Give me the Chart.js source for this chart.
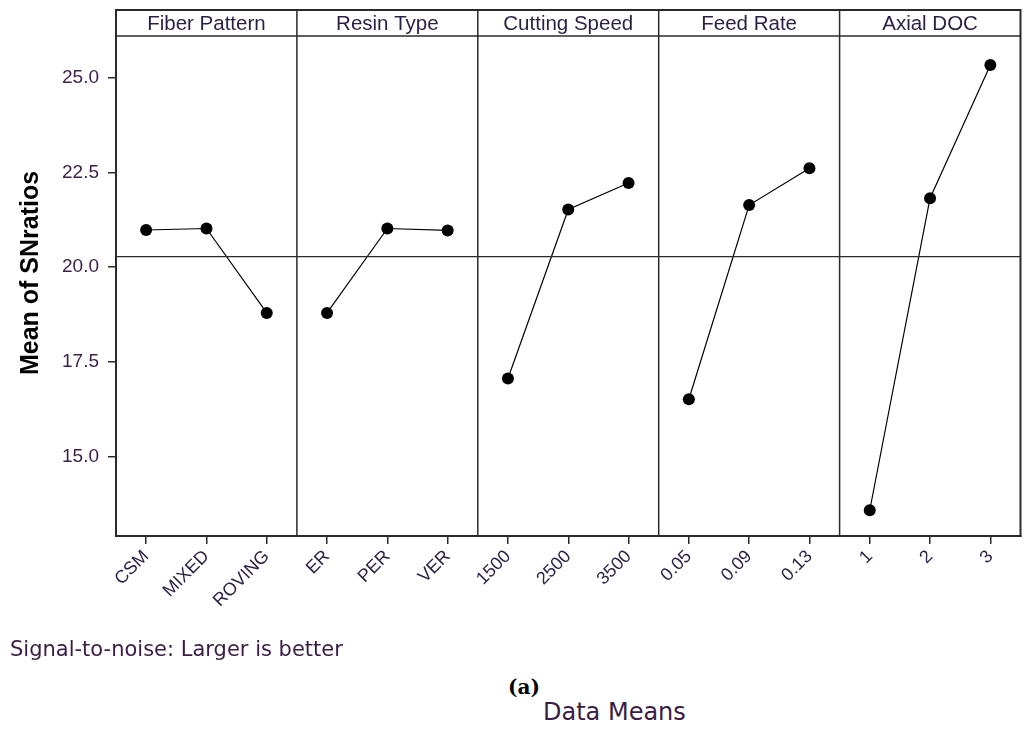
<!DOCTYPE html>
<html>
<head>
<meta charset="utf-8">
<script src="https://cdn.jsdelivr.net/npm/chart.js@4.4.1/dist/chart.umd.min.js"></script>
<style>
  body { margin: 0; background: #fff; width: 1026px; height: 736px; overflow: hidden; }
  #wrap { position: absolute; left: 0; top: 0; width: 1026px; height: 640px; }
  .note { position: absolute; white-space: nowrap; }
  #sn { left: 10px; top: 639px; font: 21px/21px "DejaVu Sans", sans-serif; color: #3a1c44; }
  #tag { left: 508px; top: 677px; font: bold 20px/20px "DejaVu Serif", serif; color: #000; }
  #means { left: 543px; top: 700px; font: 24px/24px "DejaVu Sans", sans-serif; color: #3a1c44; }
</style>
</head>
<body>
<div id="wrap"><canvas id="mainEffects"></canvas></div>
<div class="note" id="sn">Signal-to-noise: Larger is better</div>
<div class="note" id="tag">(a)</div>
<div class="note" id="means">Data Means</div>

<script>
// factors and their levels
var factors = ["Fiber Pattern", "Resin Type", "Cutting Speed", "Feed Rate", "Axial DOC"];
var fiberLevels = ["CSM", "MIXED", "ROVING"];
var resinLevels = ["ER", "PER", "VER"];
var speedLevels = ["1500", "2500", "3500"];
var feedLevels = ["0.05", "0.09", "0.13"];
var docLevels = ["1", "2", "3"];

// mean of S/N ratios per level
var fiberSN = [20.98, 21.02, 18.79];
var resinSN = [18.79, 21.02, 20.97];
var speedSN = [17.06, 21.52, 22.22];
var feedSN = [16.51, 21.64, 22.61];
var docSN = [13.58, 21.82, 25.34];

var grandMean = 20.28;
var yTicks = [15.0, 17.5, 20.0, 22.5, 25.0];

var allLevels = [fiberLevels, resinLevels, speedLevels, feedLevels, docLevels];
var allSN = [fiberSN, resinSN, speedSN, feedSN, docSN];

var tickFont = { family: "'Liberation Sans', Arial, sans-serif", size: 19 };
var frameColor = "#2a2a2a";

// one dataset per factor, points placed on the shared category axis
var datasets = factors.map(function (name, i) {
  return {
    label: name,
    data: allLevels[i].map(function (lv, j) {
      return { x: lv, y: allSN[i][j] };
    }),
    borderColor: "#000",
    borderWidth: 1.2,
    backgroundColor: "#000",
    pointRadius: 6,
    pointBorderWidth: 0,
    tension: 0,
  };
});

// frame, header strip, panel separators and reference line
var panelFrame = {
  id: "panelFrame",
  afterDatasetsDraw: function (chart) {
    var ctx = chart.ctx;
    var area = chart.chartArea;
    var x = chart.scales.x;
    var y = chart.scales.y;
    var headerBottom = area.top + 26;

    ctx.save();
    ctx.strokeStyle = frameColor;

    // grand mean line
    var ym = y.getPixelForValue(grandMean);
    ctx.lineWidth = 1.2;
    ctx.beginPath();
    ctx.moveTo(area.left, ym);
    ctx.lineTo(area.right, ym);
    ctx.stroke();

    // outer box and header line
    ctx.lineWidth = 2;
    ctx.strokeRect(area.left, area.top, area.right - area.left, area.bottom - area.top);
    ctx.lineWidth = 1.5;
    ctx.beginPath();
    ctx.moveTo(area.left, headerBottom);
    ctx.lineTo(area.right, headerBottom);
    ctx.stroke();

    // separators between panels
    var edges = [area.left];
    for (var i = 1; i < factors.length; i++) {
      var a = x.getPixelForValue(i * 3 - 1);
      var b = x.getPixelForValue(i * 3);
      var sx = (a + b) / 2;
      edges.push(sx);
      ctx.beginPath();
      ctx.moveTo(sx, area.top);
      ctx.lineTo(sx, area.bottom);
      ctx.stroke();
    }
    edges.push(area.right);

    // header titles
    ctx.fillStyle = "#2a1f44";
    ctx.font = "20.5px 'Liberation Sans', Arial, sans-serif";
    ctx.textAlign = "center";
    ctx.textBaseline = "middle";
    for (var k = 0; k < factors.length; k++) {
      ctx.fillText(factors[k], (edges[k] + edges[k + 1]) / 2, area.top + 14);
    }
    ctx.restore();
  },
};

var ctx = document.getElementById("mainEffects").getContext("2d");
new Chart(ctx, {
  type: "line",
  data: {
    labels: [].concat.apply([], allLevels),
    datasets: datasets,
  },
  options: {
    responsive: true,
    maintainAspectRatio: false,
    animation: false,
    layout: {
      autoPadding: false,
      padding: { top: 10, right: 5.5, left: 0, bottom: 0 },
    },
    scales: {
      x: {
        type: "category",
        offset: true,
        grid: {
          drawOnChartArea: false,
          drawTicks: true,
          tickLength: 8,
          color: frameColor,
          lineWidth: 1.5,
          offset: false,
        },
        border: { display: true, color: frameColor, width: 2 },
        ticks: {
          autoSkip: false,
          minRotation: 45,
          maxRotation: 45,
          padding: 2,
          color: "#2a1f44",
          font: { family: tickFont.family, size: 18 },
        },
        afterFit: function (scale) {
          scale.height = 104;
          scale.paddingLeft = 0;
          scale.paddingRight = 0;
        },
      },
      y: {
        min: 12.9,
        max: 26.79,
        afterBuildTicks: function (scale) {
          scale.ticks = yTicks.map(function (v) {
            return { value: v };
          });
        },
        afterFit: function (scale) {
          scale.width = 116;
          scale.paddingTop = 0;
          scale.paddingBottom = 0;
        },
        grid: {
          drawOnChartArea: false,
          drawTicks: true,
          tickLength: 8,
          color: frameColor,
          lineWidth: 1.5,
        },
        border: { display: true, color: frameColor, width: 2 },
        ticks: {
          padding: 9,
          color: "#3a1f4a",
          font: tickFont,
          callback: function (v) {
            return Number(v).toFixed(1);
          },
        },
        title: {
          display: true,
          text: "Mean of SNratios",
          color: "#000",
          padding: { top: 16, bottom: 0 },
          font: { family: "'Liberation Sans', Arial, sans-serif", size: 25, weight: "bold" },
        },
      },
    },
    plugins: {
      legend: { display: false },
      tooltip: { enabled: false },
    },
  },
  plugins: [panelFrame],
});
</script>
</body>
</html>
